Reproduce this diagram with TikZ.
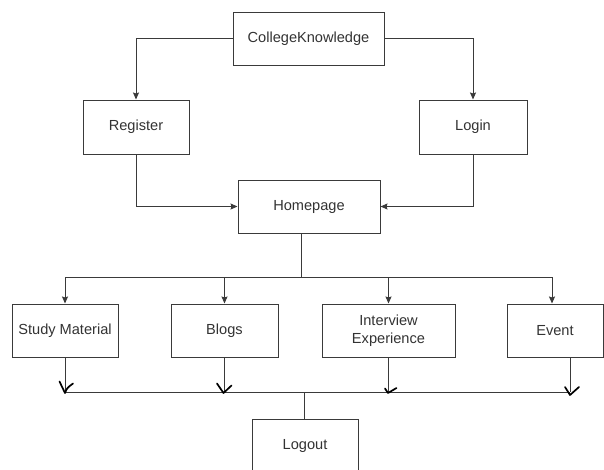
\documentclass[tikz,border=0pt]{standalone}
\usepackage{fontspec}
\setmainfont{Liberation Sans}
\usetikzlibrary{arrows.meta}
\definecolor{linec}{HTML}{3A3A3A}
\definecolor{textc}{HTML}{333333}
\begin{document}
\begin{tikzpicture}[x=1pt,y=-1pt,
  box/.style={draw=linec, line width=1pt, fill=white, text=textc,
    font=\fontsize{14.6}{18}\selectfont, inner sep=0pt, align=center,
    minimum height=53pt},
  conn/.style={draw=linec, line width=1pt},
  arr/.style={conn, -{Stealth[length=7pt,width=6pt,inset=1pt]}},
  hand/.style={draw=black, line width=1.7pt, line cap=round, line join=round}]
\useasboundingbox (0,0) rectangle (604,469);
\fill[white] (0,0) rectangle (604,469);

\node[box, minimum width=151pt] (ck) at (308.5,38.5) {CollegeKnowledge};
\node[box, minimum width=106pt, minimum height=54pt] (reg) at (136,127) {Register};
\node[box, minimum width=108pt, minimum height=54pt] (login) at (473,127) {Login};
\node[box, minimum width=142pt] (home) at (309,206.5) {Homepage};
\node[box, minimum width=106pt] (sm) at (65,330.5) {Study Material};
\node[box, minimum width=107pt] (blogs) at (224.5,330.5) {Blogs};
\node[box, minimum width=133pt] (ie) at (388.5,330.5) {Interview\\Experience};
\node[box, minimum width=96pt] (ev) at (555,330.5) {Event};
\node[box, minimum width=106pt] (logout) at (305,445.5) {Logout};

% top part
\draw[arr] (ck.west) -| (reg.north);
\draw[arr] (ck.east) -| (login.north);
\draw[arr] (reg.south) |- (home.west);
\draw[arr] (login.south) |- (home.east);

% fan-out bus
\coordinate (busA) at (301,277);
\coordinate (evtop) at (552,277);
\draw[conn] (home.south -| busA) -- (busA);
\draw[arr] (busA) -| (sm.north);
\draw[arr] (busA) -| (blogs.north);
\draw[arr] (busA) -| (ie.north);
\draw[arr] (busA) -| (evtop) -- (ev.north -| evtop);

% bottom bus
\coordinate (smb) at (65,392);
\coordinate (blb) at (224.5,392);
\coordinate (ieb) at (388.5,392);
\coordinate (evb) at (570,392);
\coordinate (lgb) at (304,392);
\draw[conn] (sm.south) -- (smb);
\draw[conn] (blogs.south) -- (blb);
\draw[conn] (ie.south) -- (ieb);
\draw[conn] (ev.south -| evb) -- (evb);
\draw[conn] (smb) -- (evb);
\draw[conn] (lgb) -- (logout.north -| lgb);

% hand-drawn marks
\draw[hand] (59.5,381.5) -- (65,393) .. controls (67,388) .. (73,383.5);
\draw[hand] (217,383.5) -- (223.5,393) -- (231.5,385.5);
\draw[hand] (385,388.5) -- (388,393) -- (396.5,388);
\draw[hand] (565,387) -- (570,395) -- (579,387);
\end{tikzpicture}
\end{document}
